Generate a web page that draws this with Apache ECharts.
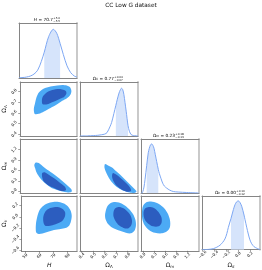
<!DOCTYPE html>
<html><head><meta charset="utf-8">
<script src="https://cdn.jsdelivr.net/npm/echarts@6/dist/echarts.min.js"></script>
<style>html,body{margin:0;padding:0;background:#fff}#c{width:262px;height:270px}</style>
</head><body><div id="c"></div>
<script>
// ---------- data ----------
const chartTitle = 'CC Low G dataset';
const rangeH = [47.3, 86.8];
const rangeL = [0.385, 0.89];
const rangeM = [-0.05, 1.51];
const rangeK = [-0.61, 0.37];
const ticksH = [50, 60, 70, 80];
const ticksL = [0.4, 0.5, 0.6, 0.7, 0.8];
const ticksM = [0.0, 0.3, 0.6, 0.9, 1.2];
const ticksK = [-0.6, -0.4, -0.2, 0.0, 0.2];
const titleValues = ['70.7', '0.77', '0.23', '0.00'];
const titlePlus = ['+5.0', '+0.04', '+0.18', '+0.10'];
const titleMinus = ['\u22125.5', '\u22120.07', '\u22120.13', '\u22120.12'];

const densH_x = [47.3,50,52.5,55,57.5,60,62.5,64.5,67.5,70.7,73,75.3,77.5,80,82.5,85,86.8];
const densH_y = [0.01,0.01,0.02,0.04,0.08,0.16,0.34,0.53,0.85,1.0,0.92,0.71,0.48,0.25,0.11,0.04,0.02];
const shadeH = [64.5, 75.3];

const densL_x = [0.385,0.45,0.5,0.54,0.57,0.60,0.62,0.645,0.66,0.68,0.697,0.71,0.725,0.735,0.747,0.757,0.767,0.777,0.787,0.803,0.815,0.83,0.85,0.89];
const densL_y = [0.0,0.003,0.008,0.015,0.025,0.04,0.07,0.19,0.28,0.47,0.64,0.77,0.90,0.96,1.0,0.97,0.87,0.70,0.52,0.22,0.10,0.03,0.01,0.0];
const shadeL = [0.697, 0.803];

const densM_x = [-0.05,-0.02,0.0,0.03,0.058,0.103,0.145,0.173,0.205,0.238,0.27,0.30,0.335,0.372,0.415,0.442,0.49,0.533,0.58,0.64,0.72,0.818,0.95,1.18,1.50];
const densM_y = [0.0,0.0,0.03,0.12,0.27,0.56,0.82,0.91,0.98,1.0,0.97,0.91,0.78,0.64,0.48,0.40,0.29,0.20,0.14,0.10,0.06,0.03,0.02,0.01,0.0];
const shadeM = [0.103, 0.415];

const densK_x = [-0.61,-0.5,-0.419,-0.36,-0.306,-0.26,-0.222,-0.19,-0.166,-0.12,-0.08,-0.053,-0.025,0.003,0.03,0.061,0.10,0.116,0.145,0.172,0.20,0.23,0.27,0.314,0.37];
const densK_y = [0.0,0.005,0.02,0.05,0.09,0.15,0.22,0.33,0.45,0.64,0.82,0.92,0.98,1.0,0.97,0.89,0.71,0.62,0.46,0.32,0.20,0.12,0.06,0.03,0.0];
const shadeK = [-0.12, 0.10];

// 2D credible regions (outer = 95%, inner = 68%), vertices in data units
const cHL_outer = [[56.8,0.624],[57.5,0.590],[60.2,0.592],[63.85,0.615],[68.4,0.648],[73.0,0.683],[76.6,0.714],[79.8,0.738],[82.2,0.771],[82.9,0.807],[82.2,0.837],[80.9,0.851],[77.3,0.861],[73.0,0.857],[68.4,0.848],[63.5,0.827],[60.3,0.792],[58.6,0.745],[57.6,0.688],[56.9,0.651]];
const cHL_inner = [[62.4,0.716],[62.9,0.683],[66.17,0.681],[69.10,0.699],[71.82,0.713],[75.4,0.736],[77.8,0.750],[79.4,0.780],[79.0,0.806],[76.5,0.821],[73.19,0.825],[70.5,0.818],[66.8,0.801],[64.7,0.780],[62.9,0.750]];
const cHM_outer = [[57.18,0.774],[58.20,0.831],[60.24,0.817],[63.85,0.693],[68.42,0.557],[72.98,0.421],[76.59,0.297],[79.79,0.181],[82.72,0.066],[83.20,-0.007],[81.36,-0.036],[79.79,-0.030],[76.59,-0.007],[72.98,0.037],[69.10,0.095],[66.17,0.181],[62.97,0.297],[60.45,0.421],[58.54,0.557],[57.72,0.664],[57.18,0.730]];
const cHM_inner = [[62.76,0.537],[64.33,0.548],[68.42,0.441],[71.14,0.369],[74.07,0.277],[76.59,0.196],[78.64,0.115],[79.11,0.037],[77.27,0.008],[75.23,0.016],[72.16,0.066],[69.58,0.115],[67.05,0.167],[65.01,0.230],[63.51,0.297],[62.76,0.375],[62.42,0.470]];
const cLM_outer = [[0.603,0.788],[0.629,0.745],[0.664,0.687],[0.698,0.586],[0.733,0.485],[0.768,0.369],[0.803,0.253],[0.838,0.138],[0.864,0.051],[0.877,-0.007],[0.864,-0.041],[0.829,-0.044],[0.785,-0.007],[0.733,0.066],[0.681,0.196],[0.637,0.384],[0.611,0.557],[0.598,0.687]];
const cLM_inner = [[0.672,0.528],[0.703,0.476],[0.733,0.398],[0.768,0.297],[0.803,0.181],[0.825,0.080],[0.829,0.008],[0.803,-0.015],[0.768,0.014],[0.733,0.080],[0.698,0.181],[0.672,0.326],[0.664,0.441]];
const cHK_outer = [[57.52,-0.218],[57.86,-0.280],[59.56,-0.307],[62.29,-0.298],[65.69,-0.271],[70.46,-0.236],[75.23,-0.218],[78.64,-0.200],[81.02,-0.164],[82.38,-0.093],[83.06,0.014],[82.38,0.103],[80.68,0.174],[77.95,0.231],[73.87,0.263],[69.78,0.263],[65.69,0.237],[62.29,0.183],[59.90,0.103],[58.54,-0.004],[57.72,-0.111]];
const cHK_inner = [[62.76,-0.040],[63.31,-0.129],[64.67,-0.164],[67.74,-0.161],[71.14,-0.138],[74.55,-0.102],[76.93,-0.057],[78.30,0.014],[78.30,0.085],[76.59,0.139],[73.87,0.169],[70.46,0.169],[67.05,0.148],[64.67,0.103],[63.17,0.032]];
const cLK_outer = [[0.607,0.085],[0.620,0.174],[0.646,0.237],[0.681,0.263],[0.724,0.255],[0.768,0.210],[0.811,0.139],[0.846,0.050],[0.868,-0.057],[0.872,-0.164],[0.859,-0.253],[0.829,-0.298],[0.785,-0.289],[0.733,-0.253],[0.672,-0.200],[0.629,-0.129],[0.607,-0.040],[0.603,0.032]];
const cLK_inner = [[0.677,0.085],[0.690,0.148],[0.720,0.174],[0.759,0.156],[0.794,0.103],[0.825,0.023],[0.838,-0.075],[0.829,-0.164],[0.803,-0.209],[0.764,-0.200],[0.724,-0.155],[0.694,-0.075],[0.677,0.005]];
const cMK_outer = [[-0.023,0.085],[0.004,0.192],[0.084,0.255],[0.219,0.272],[0.380,0.246],[0.541,0.174],[0.662,0.067],[0.729,-0.057],[0.729,-0.182],[0.649,-0.262],[0.515,-0.298],[0.326,-0.289],[0.165,-0.236],[0.044,-0.147],[-0.015,-0.040]];
const cMK_inner = [[0.017,0.067],[0.058,0.148],[0.165,0.174],[0.299,0.156],[0.420,0.085],[0.501,-0.013],[0.501,-0.111],[0.420,-0.173],[0.273,-0.173],[0.138,-0.120],[0.044,-0.040]];

// ---------- layout & style ----------
const colLeft = [19, 80, 141, 202], colW = 58;
const rowTop = [23, 82, 139, 196], rowH = [55, 54, 54, 55];
const diagMax = [1.13, 1.13, 1.10, 1.10];
const FONT = 'DejaVu Sans';
const LINE = '#7da7f3', SHADE = '#d6e4fb', OUTER = '#4caaf5', INNER = '#2c5dbf';
const SPINE = '#858585', SPINE_R = '#c4c4c4';

const ranges = [rangeH, rangeL, rangeM, rangeK];
const ticks = [ticksH, ticksL, ticksM, ticksK];
const diag = [[densH_x, densH_y, shadeH],[densL_x, densL_y, shadeL],[densM_x, densM_y, shadeM],[densK_x, densK_y, shadeK]];
const contours = {'1,0':[cHL_outer,cHL_inner],'2,0':[cHM_outer,cHM_inner],'2,1':[cLM_outer,cLM_inner],
                  '3,0':[cHK_outer,cHK_inner],'3,1':[cLK_outer,cLK_inner],'3,2':[cMK_outer,cMK_inner]};
const fmts = [v => String(v), v => v.toFixed(1), v => v.toFixed(1), v => v.toFixed(1).replace('-', '\u2212')];
const subRich = {o:{fontSize:6, fontFamily:FONT, color:'#111'}, i:{fontSize:6, fontFamily:FONT, fontStyle:'italic', color:'#111'},
                 s:{fontSize:4, fontFamily:FONT, color:'#111', verticalAlign:'bottom', padding:[3,0,0,0]},
                 si:{fontSize:4, fontFamily:FONT, fontStyle:'italic', color:'#111', verticalAlign:'bottom', padding:[3,0,0,0]}};
const axisNames = ['{i|H}', '{o|\u03a9}{s|\u039b}', '{o|\u03a9}{si|m}', '{o|\u03a9}{si|k}'];

const grids = [], xAxes = [], yAxes = [], series = [];
function addGrid(r, c) {
  const gi = grids.length;
  grids.push({left: colLeft[c], top: rowTop[r], width: colW, height: rowH[r]});
  const showX = r === 3, showY = c === 0 && r > 0;
  const isDiag = r === c;
  xAxes.push({type:'value', gridIndex:gi, position:'bottom', min:ranges[c][0], max:ranges[c][1],
    axisLine:{show:true, onZero:false, lineStyle:{color:SPINE, width:1}},
    axisTick:{show:showX, length:2, customValues:ticks[c], lineStyle:{color:'#666', width:0.6}},
    axisLabel:{show:showX, customValues:ticks[c], rotate:45, align:'center', verticalAlign:'middle', margin:5,
      fontSize:4, fontFamily:FONT, color:'#222', formatter:fmts[c]},
    splitLine:{show:false},
    name: showX ? axisNames[c] : '', nameLocation:'middle', nameGap:9,
    nameTextStyle:{rich:subRich}});
  xAxes.push({type:'value', gridIndex:gi, position:'top', min:ranges[c][0], max:ranges[c][1],
    axisLine:{show:true, onZero:false, lineStyle:{color:SPINE, width:1}},
    axisTick:{show:false}, axisLabel:{show:false}, splitLine:{show:false}});
  const yr = isDiag ? [0, diagMax[r]] : ranges[r];
  yAxes.push({type:'value', gridIndex:gi, position:'left', min:yr[0], max:yr[1],
    axisLine:{show:true, onZero:false, lineStyle:{color:SPINE, width:1}},
    axisTick:{show:showY, length:2, customValues: showY ? ticks[r] : undefined, lineStyle:{color:'#666', width:0.6}},
    axisLabel:{show:showY, customValues: showY ? ticks[r] : undefined, rotate:45, align:'center', verticalAlign:'middle', margin:6,
      fontSize:4, fontFamily:FONT, color:'#222', formatter:fmts[r]},
    splitLine:{show:false},
    name: showY ? axisNames[r] : '', nameLocation:'middle', nameGap:11, nameRotate:90,
    nameTextStyle:{rich:subRich}});
  yAxes.push({type:'value', gridIndex:gi, position:'right', min:yr[0], max:yr[1],
    axisLine:{show:true, onZero:false, lineStyle:{color:SPINE_R, width:1.8}},
    axisTick:{show:false}, axisLabel:{show:false}, splitLine:{show:false}});
  const xi = 2*gi, yi = 2*gi;
  if (isDiag) {
    const [xs, ys, sh] = diag[r];
    const pts = xs.map((x, i) => [x, ys[i]]);
    const shadePts = pts.filter(p => p[0] >= sh[0] - 1e-9 && p[0] <= sh[1] + 1e-9);
    series.push({type:'line', xAxisIndex:xi, yAxisIndex:yi, data:shadePts, smooth:0.3,
      symbol:'none', silent:true, lineStyle:{width:0}, areaStyle:{color:SHADE, opacity:1}, z:1});
    series.push({type:'line', xAxisIndex:xi, yAxisIndex:yi, data:pts, smooth:0.3,
      symbol:'none', silent:true, lineStyle:{color:LINE, width:1}, z:2});
  } else {
    const [outer, inner] = contours[r + ',' + c];
    [[outer, OUTER], [inner, INNER]].forEach(([poly, col], k) => {
      series.push({type:'custom', xAxisIndex:xi, yAxisIndex:yi, coordinateSystem:'cartesian2d',
        data:[poly[0]], silent:true, clip:true, z:2 + k,
        renderItem:(params, api) => ({type:'polygon', shape:{points: poly.map(p => api.coord(p)), smooth:0.3},
          style:{fill:col}})});
    });
  }
}
for (let r = 0; r < 4; r++) for (let c = 0; c <= r; c++) addGrid(r, c);

// titles above diagonal panels
const titleNames = ['{i|H}{o| = }', '{o|\u03a9}{s|\u039b}{o| = }', '{o|\u03a9}{si|m}{o| = }', '{o|\u03a9}{si|k}{o| = }'];
const tRich = {o:{fontSize:4.3, fontFamily:FONT, color:'#111'}, i:{fontSize:4.3, fontFamily:FONT, fontStyle:'italic', color:'#111'},
               s:{fontSize:3, fontFamily:FONT, color:'#111', verticalAlign:'bottom'}, si:{fontSize:3, fontFamily:FONT, fontStyle:'italic', color:'#111', verticalAlign:'bottom'}};
const graphics = [{type:'text', left:'center', top:2, style:{text:chartTitle, font:'5.8px "DejaVu Sans"', fill:'#111'}}];
for (let i = 0; i < 4; i++) {
  const cx = colLeft[i] + colW/2, ty = rowTop[i];
  graphics.push({type:'text', x:cx + 5, y:ty - 3, style:{text:titleNames[i] + '{o|' + titleValues[i] + '}', rich:tRich, align:'right', verticalAlign:'middle'}});
  graphics.push({type:'text', x:cx + 5.3, y:ty - 4.6, style:{text:titlePlus[i], font:'2.8px "DejaVu Sans"', fill:'#111', align:'left', verticalAlign:'middle'}});
  graphics.push({type:'text', x:cx + 5.3, y:ty - 1.6, style:{text:titleMinus[i], font:'2.8px "DejaVu Sans"', fill:'#111', align:'left', verticalAlign:'middle'}});
}

const chart = echarts.init(document.getElementById('c'), null, {renderer:'canvas'});
chart.setOption({animation:false, backgroundColor:'#fff', grid:grids, xAxis:xAxes, yAxis:yAxes, series:series, graphic:graphics});
</script></body></html>
